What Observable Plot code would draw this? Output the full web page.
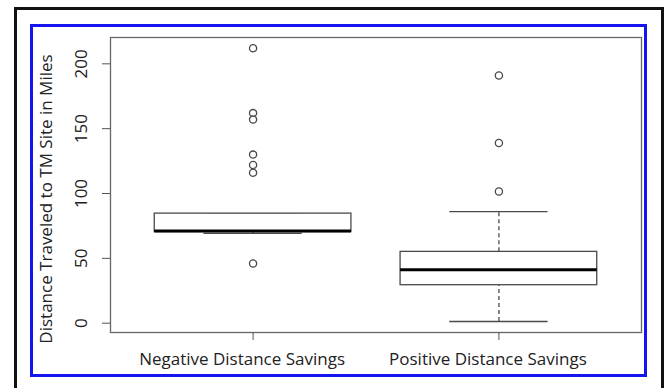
<!DOCTYPE html>
<html>
<head>
<meta charset="utf-8">
<script src="https://cdn.jsdelivr.net/npm/d3@7"></script>
<script src="https://cdn.jsdelivr.net/npm/@observablehq/plot@0.6"></script>
<style>
  html, body { margin: 0; padding: 0; background: #fff; }
  #wrap { position: relative; width: 667px; height: 388px; overflow: hidden; background: #fff; }
  #black { position: absolute; left: 14px; top: 7px; width: 644px; height: 400px; border-left: 3px solid #111; border-top: 3px solid #111; border-right: 3px solid #111; }
  #blue { position: absolute; left: 30px; top: 24px; width: 611px; height: 347px; border: 3px solid #1414f0; }
  #chart { position: absolute; left: 0; top: 0; }
  #chart svg { background: none !important; }
</style>
</head>
<body>
<div id="wrap"><div id="black"></div><div id="blue"></div><div id="chart"></div></div>
<script>
// ---- data ----
const categories = ["Negative Distance Savings", "Positive Distance Savings"];
const whiskerLow  = [69.3, 1.3];
const q1          = [70.3, 29.3];
const median      = [71, 41.2];
const q3          = [84.5, 55];
const whiskerHigh = [84.5, 86.1];
const outliersNeg = [212, 162, 157, 130, 122, 116, 46];
const outliersPos = [191, 139, 101.5];
const yTicks = [0, 50, 100, 150, 200];
const yTitle = "Distance Traveled to TM Site in Miles";

const stats = categories.map((c, i) => ({
  pos: i + 1, cat: c,
  lo: whiskerLow[i], q1: q1[i], med: median[i], q3: q3[i], hi: whiskerHigh[i]
}));
const outliers = [
  ...outliersNeg.map(v => ({pos: 1, v})),
  ...outliersPos.map(v => ({pos: 2, v}))
];

const boxHalf = 0.4, stapleHalf = 0.2;
const font = "'Open Sans', 'Noto Sans', sans-serif";
const lineCol = "#4a4a4a";

const chart = Plot.plot({
  width: 667, height: 388,
  marginLeft: 110, marginRight: 26, marginTop: 37, marginBottom: 56,
  style: {fontFamily: font, background: "none", color: "#222"},
  x: {domain: [0.42, 2.58]},
  y: {domain: [-7.17, 220.3]},
  marks: [
    Plot.frame({stroke: "#666", strokeWidth: 1.3}),
    // whiskers (dashed)
    Plot.ruleX(stats, {x: "pos", y1: "q3", y2: "hi", stroke: lineCol, strokeWidth: 1.3, strokeDasharray: "4,3"}),
    Plot.ruleX(stats, {x: "pos", y1: "lo", y2: "q1", stroke: lineCol, strokeWidth: 1.3, strokeDasharray: "4,3"}),
    // staples
    Plot.ruleY(stats, {y: "hi", x1: d => d.pos - stapleHalf, x2: d => d.pos + stapleHalf, stroke: lineCol, strokeWidth: 1.3}),
    Plot.ruleY(stats, {y: "lo", x1: d => d.pos - stapleHalf, x2: d => d.pos + stapleHalf, stroke: lineCol, strokeWidth: 1.3}),
    // boxes
    Plot.rect(stats, {x1: d => d.pos - boxHalf, x2: d => d.pos + boxHalf, y1: "q1", y2: "q3", fill: "white", stroke: lineCol, strokeWidth: 1.3}),
    // medians
    Plot.ruleY(stats, {y: "med", x1: d => d.pos - boxHalf, x2: d => d.pos + boxHalf, stroke: "#000", strokeWidth: 3}),
    // outliers
    Plot.dot(outliers, {x: "pos", y: "v", r: 3.6, fill: "white", stroke: lineCol, strokeWidth: 1.3}),
    // axes
    Plot.axisY({ticks: yTicks, tickSize: 8, tickFormat: () => "", label: null, stroke: "#555"}),
    Plot.text(yTicks, {y: d => d, text: d => String(d), frameAnchor: "left", dx: -29, rotate: -90, textAnchor: "middle", fontSize: 17, fill: "#222"}),
    Plot.text([yTitle], {text: d => d, frameAnchor: "left", dx: -64, dy: 14, rotate: -90, textAnchor: "middle", fontSize: 17, fill: "#222"}),
    Plot.axisX({ticks: [1, 2], tickSize: 8, tickFormat: () => "", label: null, stroke: "#555"}),
    Plot.text(stats, {x: "pos", text: "cat", frameAnchor: "bottom", lineAnchor: "top", dy: 20, dx: -11, fontSize: 17, fill: "#222"})
  ]
});
document.getElementById("chart").appendChild(chart);
</script>
</body>
</html>
